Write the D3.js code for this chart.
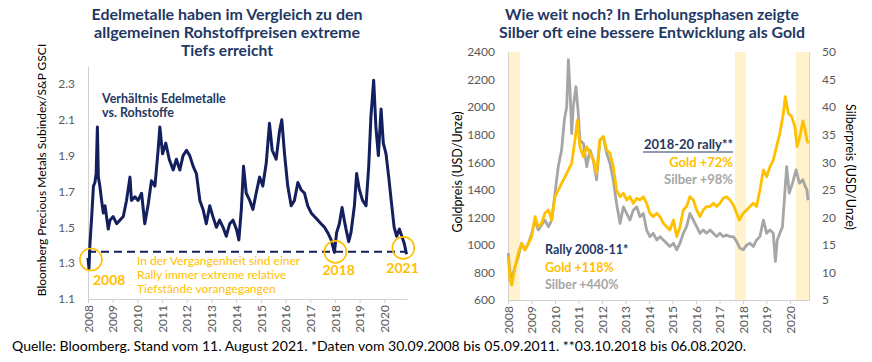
<!DOCTYPE html>
<html>
<head>
<meta charset="utf-8">
<script src="https://cdn.jsdelivr.net/npm/d3@7"></script>
<style>
  body { margin: 0; background: #fff; }
  svg { display: block; }
  text { font-family: Lato, "Open Sans", sans-serif; }
</style>
</head>
<body>
<svg id="chart" width="872" height="362"></svg>
<script>
// ---- left chart: ratio precious metals / commodities ----
var ratioYears = [2008.00,2008.04,2008.08,2008.15,2008.22,2008.28,2008.33,2008.38,2008.42,2008.48,
  2008.55,2008.62,2008.69,2008.82,2008.89,2009.02,2009.16,2009.29,2009.43,2009.56,
  2009.70,2009.76,2009.90,2010.03,2010.17,2010.30,2010.44,2010.57,2010.71,2010.84,
  2010.91,2011.02,2011.15,2011.29,2011.45,2011.58,2011.72,2011.85,2011.99,2012.12,
  2012.26,2012.39,2012.53,2012.66,2012.79,2012.93,2013.06,2013.20,2013.33,2013.47,
  2013.60,2013.74,2013.87,2014.01,2014.11,2014.21,2014.30,2014.41,2014.55,2014.68,
  2014.81,2014.95,2015.08,2015.22,2015.35,2015.46,2015.62,2015.76,2015.85,2015.96,
  2016.09,2016.23,2016.36,2016.50,2016.63,2016.77,2016.90,2017.04,2017.17,2017.31,
  2017.44,2017.58,2017.71,2017.85,2017.98,2018.07,2018.18,2018.29,2018.38,2018.45,
  2018.56,2018.65,2018.79,2018.88,2018.99,2019.12,2019.26,2019.37,2019.46,2019.57,
  2019.66,2019.76,2019.87,2019.96,2020.07,2020.18,2020.28,2020.40,2020.50,2020.61,
  2020.71,2020.81,2020.90];
var ratioValues = [1.33,1.27,1.41,1.56,1.73,1.75,1.80,2.06,1.78,1.73,
  1.65,1.58,1.62,1.49,1.54,1.56,1.52,1.54,1.56,1.65,
  1.78,1.65,1.67,1.65,1.69,1.52,1.63,1.76,1.73,1.93,
  2.06,1.91,1.97,1.88,1.82,1.88,1.82,1.90,1.93,1.90,
  1.84,1.80,1.65,1.60,1.52,1.62,1.56,1.50,1.54,1.50,
  1.45,1.52,1.54,1.49,1.43,1.60,1.84,1.69,1.65,1.60,
  1.69,1.78,1.73,1.86,2.08,1.93,1.88,2.04,2.10,1.91,
  1.73,1.62,1.65,1.75,1.71,1.69,1.62,1.58,1.56,1.54,
  1.52,1.50,1.47,1.43,1.36,1.47,1.52,1.61,1.54,1.49,
  1.42,1.47,1.62,1.80,1.71,1.65,1.62,1.84,2.12,2.32,
  2.06,1.90,2.16,1.97,1.91,1.78,1.65,1.50,1.45,1.49,
  1.45,1.41,1.35];
var ratioFloor = 1.364;
var lowYears = [2008.12, 2018.02, 2020.77];
var lowValues = [1.32, 1.363, 1.385];
var lowLabels = ['2008', '2018', '2021'];
var ratioTicks = [1.1, 1.3, 1.5, 1.7, 1.9, 2.1, 2.3];

// ---- right chart: gold and silver prices ----
var goldYears = [2008.01,2008.09,2008.16,2008.30,2008.44,2008.58,2008.72,2008.87,2009.01,2009.15,
  2009.29,2009.43,2009.57,2009.72,2009.86,2010.00,2010.14,2010.28,2010.43,2010.57,
  2010.71,2010.85,2010.95,2011.06,2011.21,2011.35,2011.49,2011.63,2011.77,2011.91,
  2012.06,2012.20,2012.34,2012.48,2012.62,2012.77,2012.91,2013.05,2013.19,2013.33,
  2013.48,2013.62,2013.76,2013.90,2014.04,2014.18,2014.33,2014.47,2014.61,2014.75,
  2014.89,2015.04,2015.18,2015.32,2015.46,2015.60,2015.74,2015.89,2016.03,2016.17,
  2016.31,2016.45,2016.60,2016.74,2016.88,2017.02,2017.16,2017.30,2017.45,2017.59,
  2017.73,2017.84,2018.01,2018.16,2018.30,2018.44,2018.58,2018.72,2018.87,2019.01,
  2019.15,2019.29,2019.43,2019.57,2019.72,2019.80,2019.93,2020.07,2020.21,2020.30,
  2020.38,2020.45,2020.55,2020.65,2020.72,2020.77];
var goldPrices = [915,745,709,842,939,1011,963,1011,1060,1205,
  1132,1157,1229,1253,1181,1350,1398,1447,1495,1544,
  1592,1761,1906,1713,1640,1713,1665,1616,1519,1761,
  1786,1689,1665,1568,1398,1350,1374,1326,1350,1302,
  1338,1326,1350,1302,1229,1205,1229,1205,1157,1132,
  1108,1181,1060,1132,1253,1278,1350,1326,1253,1205,
  1253,1278,1278,1302,1278,1302,1338,1350,1326,1290,
  1229,1181,1229,1253,1278,1302,1278,1398,1544,1495,
  1568,1616,1713,1810,1955,2076,1955,1931,1858,1713,
  1760,1810,1900,1830,1761,1737];
var silverYears = [2008.01,2008.09,2008.16,2008.30,2008.44,2008.58,2008.72,2008.87,2009.01,2009.15,
  2009.29,2009.43,2009.57,2009.72,2009.86,2010.00,2010.14,2010.28,2010.40,2010.50,
  2010.57,2010.64,2010.71,2010.78,2010.89,2010.99,2011.06,2011.21,2011.35,2011.49,
  2011.63,2011.77,2011.91,2012.06,2012.20,2012.34,2012.48,2012.62,2012.77,2012.91,
  2013.05,2013.19,2013.33,2013.48,2013.62,2013.76,2013.90,2014.04,2014.18,2014.33,
  2014.47,2014.61,2014.75,2014.89,2015.04,2015.18,2015.32,2015.46,2015.60,2015.74,
  2015.89,2016.03,2016.17,2016.31,2016.45,2016.60,2016.74,2016.88,2017.02,2017.16,
  2017.30,2017.45,2017.59,2017.73,2017.87,2018.01,2018.16,2018.30,2018.44,2018.58,
  2018.72,2018.87,2019.01,2019.15,2019.29,2019.38,2019.46,2019.57,2019.68,2019.79,
  2019.86,2019.97,2020.11,2020.26,2020.40,2020.55,2020.65,2020.72,2020.77];
var silverPrices = [13.5,9.9,8.9,11.1,12.9,15.3,14.1,15.3,17.1,19.5,
  17.7,18.6,19.5,18.3,19.5,24.4,29.2,32.2,37.7,40.1,
  48.6,43.1,35.2,40.1,43.7,38.9,34.0,33.4,29.2,32.2,
  30.4,26.8,34.0,34.6,31.6,29.8,26.8,22.5,18.9,21.9,
  20.7,19.5,21.3,21.9,20.1,20.7,17.7,16.5,17.1,15.9,
  16.5,15.9,15.3,14.7,15.3,14.1,15.3,17.1,18.3,20.7,
  19.5,18.3,17.1,17.7,17.1,17.7,17.1,16.5,17.1,16.5,
  16.8,16.5,16.5,15.6,14.4,14.1,15.0,15.3,14.7,15.9,
  16.5,19.5,17.1,17.7,17.1,12.0,15.9,17.1,18.3,25.0,
  29.2,24.4,26.2,28.6,26.2,26.8,25.6,25.0,23.1];
var rallyBands = [[2008.0, 2008.5], [2017.66, 2018.13], [2020.26, 2020.81]];
var goldTicks = [600, 800, 1000, 1200, 1400, 1600, 1800, 2000, 2200, 2400];
var silverTicks = [5, 10, 15, 20, 25, 30, 35, 40, 45, 50];
var yearTicks = [2008, 2009, 2010, 2011, 2012, 2013, 2014, 2015, 2016, 2017, 2018, 2019, 2020];

var navy = '#1f3864', line = '#141f5e', gold = '#ffc000', grey = '#a6a6a6',
    band = '#fff2cc', axisGrey = '#d0d0d0', labelGrey = '#595959';

var svg = d3.select('#chart');

function zipXY(xs, ys) {
  return xs.map(function(d, i) { return [d, ys[i]]; });
}

function yearAxis(g, x, yPos) {
  g.attr('transform', 'translate(0,' + yPos + ')')
   .call(d3.axisBottom(x).tickValues(yearTicks).tickFormat(d3.format('d')).tickSize(4).tickSizeOuter(0));
  g.select('.domain').attr('stroke', axisGrey);
  g.selectAll('.tick line').attr('stroke', axisGrey);
  g.selectAll('.tick text')
   .attr('transform', 'rotate(-90)')
   .attr('text-anchor', 'end')
   .attr('x', -6).attr('y', 0).attr('dy', '0.35em')
   .attr('fill', labelGrey)
   .style('font-size', '12px')
   .style('font-family', 'Lato, sans-serif');
}

// titles: [text, width in px] so the lines keep the reference's measure
function title(lines, cx, y0, lh) {
  var t = svg.append('text').attr('text-anchor', 'middle').attr('fill', navy)
    .style('font-weight', 'bold').style('font-size', '15.5px');
  lines.forEach(function(s, i) {
    t.append('tspan').attr('x', cx).attr('y', y0 + i * lh)
      .attr('textLength', s[1]).attr('lengthAdjust', 'spacingAndGlyphs')
      .text(s[0]);
  });
}

// ================= left chart =================
var xL = d3.scaleLinear().domain([2008, 2020.92]).range([88, 407]);
var yL = d3.scaleLinear().domain([1.1, 2.4]).range([299, 66]);

title([['Edelmetalle haben im Vergleich zu den', 271], ['allgemeinen Rohstoffpreisen extreme', 266], ['Tiefs erreicht', 92]], 227, 20, 18);

var gL = svg.append('g');
var yAxL = gL.append('g').attr('transform', 'translate(88,0)')
  .call(d3.axisLeft(yL).tickValues(ratioTicks).tickFormat(d3.format('.1f')).tickSize(0).tickPadding(13));
yAxL.select('.domain').attr('stroke', axisGrey);
yAxL.selectAll('text').attr('fill', labelGrey).style('font-size', '12px').style('font-family', 'Lato, sans-serif');

yearAxis(gL.append('g'), xL, 299);

gL.append('text')
  .attr('transform', 'translate(46,170) rotate(-90)')
  .attr('text-anchor', 'middle').attr('fill', '#000')
  .style('font-size', '12px')
  .text('Bloomberg Precious Metals Subindex/S&P GSCI');

gL.append('line')
  .attr('x1', xL(2008)).attr('x2', xL(2020.92))
  .attr('y1', yL(ratioFloor)).attr('y2', yL(ratioFloor))
  .attr('stroke', line).attr('stroke-width', 2).attr('stroke-dasharray', '8,5');

gL.append('path')
  .datum(zipXY(ratioYears, ratioValues))
  .attr('fill', 'none').attr('stroke', line).attr('stroke-width', 3)
  .attr('stroke-linejoin', 'round')
  .attr('d', d3.line().x(function(d) { return xL(d[0]); }).y(function(d) { return yL(d[1]); }));

gL.selectAll('circle.low')
  .data(lowYears).enter().append('circle')
  .attr('cx', function(d) { return xL(d); })
  .attr('cy', function(d, i) { return yL(lowValues[i]); })
  .attr('r', 11).attr('fill', 'none').attr('stroke', gold).attr('stroke-width', 1.6);

var lowOff = [[2, 25], [-13, 23], [-17, 25]];
gL.selectAll('text.low')
  .data(lowLabels).enter().append('text')
  .attr('x', function(d, i) { return xL(lowYears[i]) + lowOff[i][0]; })
  .attr('y', function(d, i) { return yL(lowValues[i]) + lowOff[i][1]; })
  .attr('fill', gold).style('font-weight', 'bold').style('font-size', '14px')
  .text(function(d) { return d; });

var note = gL.append('text').attr('fill', gold).style('font-size', '12px');
['In der Vergangenheit sind einer', 'Rally immer extreme relative', 'Tiefstände vorangegangen'].forEach(function(s, i) {
  note.append('tspan').attr('x', 137).attr('y', 265 + i * 14).text(s);
});

var lab = gL.append('text').attr('fill', navy).style('font-weight', 'bold').style('font-size', '12.5px');
['Verhältnis Edelmetalle', 'vs. Rohstoffe'].forEach(function(s, i) {
  lab.append('tspan').attr('x', 102).attr('y', 103 + i * 14).text(s);
});

// ================= right chart =================
var xR = d3.scaleLinear().domain([2008, 2020.81]).range([508, 809]);
var yG = d3.scaleLinear().domain([600, 2400]).range([300, 52]);
var yS = d3.scaleLinear().domain([5, 50]).range([300, 52]);

title([['Wie weit noch? In Erholungsphasen zeigte', 294], ['Silber oft eine bessere Entwicklung als Gold', 306]], 652, 20, 18);

var gR = svg.append('g');
gR.selectAll('rect.band')
  .data(rallyBands).enter().append('rect')
  .attr('x', function(d) { return xR(d[0]); })
  .attr('width', function(d) { return xR(d[1]) - xR(d[0]); })
  .attr('y', 52).attr('height', 248)
  .attr('fill', band);

var axG = gR.append('g').attr('transform', 'translate(508,0)')
  .call(d3.axisLeft(yG).tickValues(goldTicks).tickFormat(d3.format('d')).tickSize(0).tickPadding(13));
axG.select('.domain').attr('stroke', axisGrey);
axG.selectAll('text').attr('fill', labelGrey).style('font-size', '12px').style('font-family', 'Lato, sans-serif');

var axS = gR.append('g').attr('transform', 'translate(809,0)')
  .call(d3.axisRight(yS).tickValues(silverTicks).tickFormat(d3.format('d')).tickSize(0).tickPadding(13));
axS.select('.domain').attr('stroke', axisGrey);
axS.selectAll('text').attr('fill', labelGrey).style('font-size', '12px').style('font-family', 'Lato, sans-serif');

yearAxis(gR.append('g'), xR, 300);

gR.append('text')
  .attr('transform', 'translate(462,172) rotate(-90)')
  .attr('text-anchor', 'middle').style('font-size', '12.5px')
  .text('Goldpreis (USD/Unze)');
gR.append('text')
  .attr('transform', 'translate(846,167) rotate(90)')
  .attr('text-anchor', 'middle').style('font-size', '12.5px')
  .text('Silberpreis (USD/Unze)');

gR.append('path')
  .datum(zipXY(silverYears, silverPrices))
  .attr('fill', 'none').attr('stroke', grey).attr('stroke-width', 2.8)
  .attr('stroke-linejoin', 'round')
  .attr('d', d3.line().x(function(d) { return xR(d[0]); }).y(function(d) { return yS(d[1]); }));

gR.append('path')
  .datum(zipXY(goldYears, goldPrices))
  .attr('fill', 'none').attr('stroke', gold).attr('stroke-width', 2.8)
  .attr('stroke-linejoin', 'round')
  .attr('d', d3.line().x(function(d) { return xR(d[0]); }).y(function(d) { return yG(d[1]); }));

// rally annotations
function rallyText(lines, x, y0, anchor, size) {
  lines.forEach(function(l, i) {
    gR.append('text').attr('x', x).attr('y', y0 + i * 17.5)
      .attr('text-anchor', anchor).attr('fill', l[1])
      .style('font-weight', 'bold').style('font-size', size + 'px')
      .text(l[0]);
  });
}
rallyText([['2018-20 rally**', navy], ['Gold +72%', gold], ['Silber  +98%', grey]], 733, 149, 'end', 13);
gR.append('line').attr('x1', 643).attr('x2', 733).attr('y1', 152).attr('y2', 152)
  .attr('stroke', navy).attr('stroke-width', 1);
rallyText([['Rally 2008-11*', navy], ['Gold +118%', gold], ['Silber +440%', grey]], 545, 254, 'start', 12.5);

// footer
svg.append('text').attr('x', 12).attr('y', 351).attr('fill', '#000')
  .style('font-size', '13.5px')
  .attr('textLength', 734).attr('lengthAdjust', 'spacingAndGlyphs')
  .text('Quelle: Bloomberg. Stand vom 11. August 2021. *Daten vom 30.09.2008 bis 05.09.2011. **03.10.2018 bis 06.08.2020.');
</script>
</body>
</html>
